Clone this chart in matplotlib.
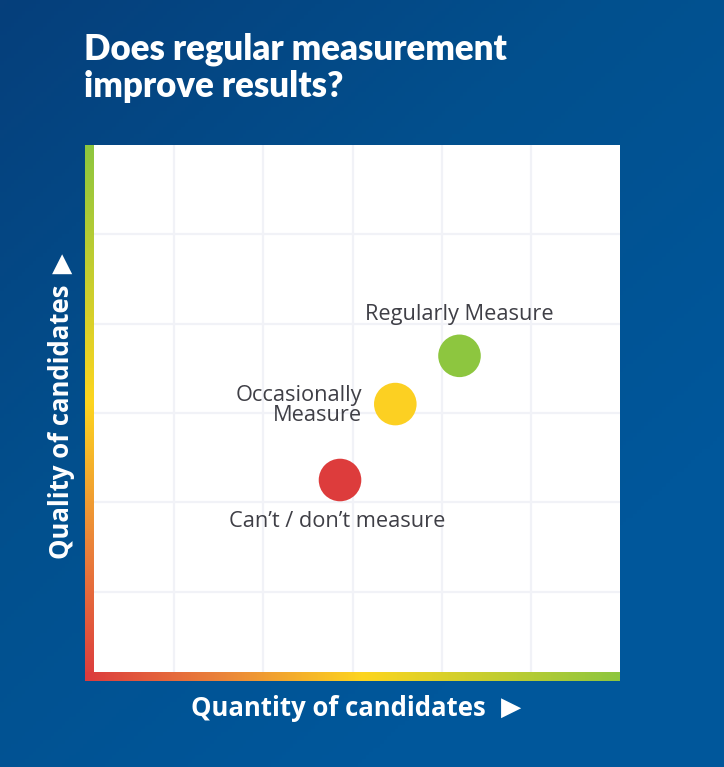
import numpy as np
import matplotlib.pyplot as plt
from matplotlib.colors import LinearSegmentedColormap

# data (grid units, 6 x 6 grid)
groups = ["Regularly Measure", "Occasionally\nMeasure", "Can\u2019t / don\u2019t measure"]
quantity = [4.20, 3.48, 2.86]
quality = [3.64, 3.10, 2.25]
colors = ["#8DC63F", "#FCD022", "#DD3C3C"]

title = "Does regular measurement\nimprove results?"
xlabel = "Quantity of candidates"
ylabel = "Quality of candidates"

fig = plt.figure(figsize=(7.24, 7.67), dpi=100)

# background gradient
bg = fig.add_axes([0, 0, 1, 1])
bg.set_axis_off()
gx, gy = np.meshgrid(np.linspace(0, 1, 200), np.linspace(0, 1, 200))
g = np.clip(gx * 0.6 + gy * 0.7, 0, 1)
bg_cmap = LinearSegmentedColormap.from_list("bg", ["#063F7B", "#02508E", "#00579B"])
bg.imshow(g, cmap=bg_cmap, aspect="auto", extent=[0, 1, 0, 1], origin="upper")

W, H = 724, 767
ax = fig.add_axes([85 / W, (H - 681) / H, 535 / W, 536 / H])
ax.set_facecolor("white")
ax.set_xticks(range(1, 6))
ax.set_yticks(range(1, 6))
ax.tick_params(length=0, labelbottom=False, labelleft=False)
ax.grid(True, color="#F1F2F7", linewidth=1.6)
ax.set_axisbelow(True)
for s in ax.spines.values():
    s.set_visible(False)

# gradient axis bars
axis_cmap = LinearSegmentedColormap.from_list(
    "axis", [(0, "#DC3B3E"), (0.25, "#EA823A"), (0.52, "#FDD51F"), (1, "#8DC63F")])
bw = 0.1
ramp = np.linspace(0, 1, 256)
ax.imshow(ramp[:, None], cmap=axis_cmap, aspect="auto", origin="lower",
          extent=[0, bw, 0, 6], zorder=5)
ax.imshow(ramp[None, :], cmap=axis_cmap, aspect="auto", origin="lower",
          extent=[0, 6, 0, bw], zorder=5)
ax.set_xlim(0, 6)
ax.set_ylim(0, 6)

ax.scatter(quantity, quality, s=940, c=colors, edgecolors="none", zorder=6)

lab_font = dict(family="Open Sans", fontsize=15.7, color="#3F3F46")
ax.annotate(groups[0], (quantity[0], quality[0]), xytext=(0, 30),
            textcoords="offset points", ha="center", va="center", **lab_font)
ax.annotate(groups[1], (quantity[1], quality[1]), xytext=(-24, -1),
            textcoords="offset points", ha="right", va="center",
            multialignment="right", linespacing=0.95, **lab_font)
ax.annotate(groups[2], (quantity[2], quality[2]), xytext=(-2, -30),
            textcoords="offset points", ha="center", va="center", **lab_font)

fig.text(84 / W, 1 - 33 / H, title, ha="left", va="top", color="white",
         family="Lato", fontweight="heavy", fontsize=25, linespacing=1.12)

ax_font = dict(color="white", family="Open Sans", fontweight="bold", fontsize=18.5)
fig.text(338 / W, 1 - 708 / H, xlabel, ha="center", va="center", **ax_font)
fig.text(511 / W, 1 - 708 / H, "\u25B6", ha="center", va="center",
         color="white", family="DejaVu Sans", fontsize=19)
fig.text(62 / W, 1 - 422 / H, ylabel, ha="center", va="center", rotation=90,
         **ax_font)
fig.text(62 / W, 1 - 264 / H, "\u25B2", ha="center", va="center",
         color="white", family="DejaVu Sans", fontsize=19)

fig.savefig("out.png", dpi=100)
